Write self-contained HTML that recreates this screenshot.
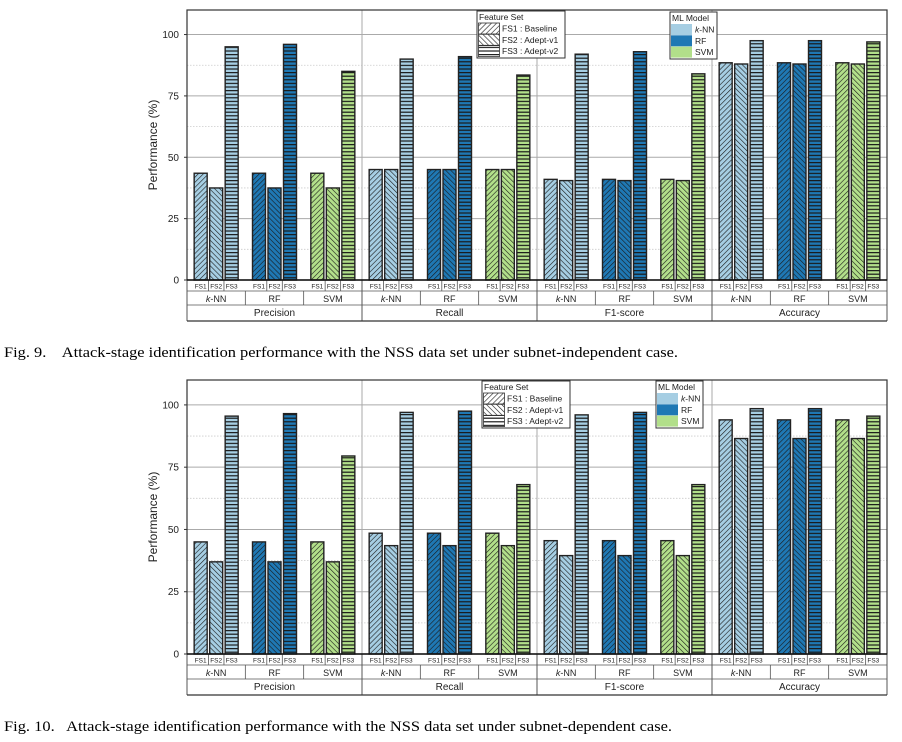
<!DOCTYPE html>
<html><head><meta charset="utf-8">
<style>
html,body{margin:0;padding:0;background:#fff;}
svg{display:block;}
text{font-family:"Liberation Sans",sans-serif;}
.cap{font-family:"Liberation Serif",serif;font-size:14.5px;fill:#000;}
</style></head>
<body>
<svg id="root" width="902" height="742" viewBox="0 0 902 742" xmlns="http://www.w3.org/2000/svg">
<defs>
<pattern id="h1" width="3.6" height="3.6" patternUnits="userSpaceOnUse" patternTransform="rotate(45)"><line x1="0" y1="0" x2="0" y2="3.6" stroke="#1a1a1a" stroke-width="1.2"/></pattern>
<pattern id="h2" width="3.6" height="3.6" patternUnits="userSpaceOnUse" patternTransform="rotate(-45)"><line x1="0" y1="0" x2="0" y2="3.6" stroke="#1a1a1a" stroke-width="1.2"/></pattern>
<pattern id="h3" width="4" height="3.6" patternUnits="userSpaceOnUse"><line x1="0" y1="0.6" x2="4" y2="0.6" stroke="#1a1a1a" stroke-width="1.2"/></pattern>
</defs>
<text class="cap" x="4" y="357" textLength="674" lengthAdjust="spacingAndGlyphs">Fig. 9.&#160;&#160;&#160; Attack-stage identification performance with the NSS data set under subnet-independent case.</text>
<text class="cap" x="4" y="731" textLength="668" lengthAdjust="spacingAndGlyphs">Fig. 10.&#160;&#160; Attack-stage identification performance with the NSS data set under subnet-dependent case.</text>
</svg>
<script>
const metrics = ["Precision","Recall","F1-score","Accuracy"];
const models = ["k-NN","RF","SVM"];
const featureSets = ["FS1","FS2","FS3"];
const yTicks = [0,25,50,75,100];
// values[metric][model][fs]
const fig9Values = [
 [[43.5,37.5,95],[43.5,37.5,96],[43.5,37.5,85]],
 [[45,45,90],[45,45,91],[45,45,83.5]],
 [[41,40.5,92],[41,40.5,93],[41,40.5,84]],
 [[88.5,88,97.5],[88.5,88,97.5],[88.5,88,97]]
];
const fig10Values = [
 [[45,37,95.5],[45,37,96.5],[45,37,79.5]],
 [[48.5,43.5,97],[48.5,43.5,97.5],[48.5,43.5,68]],
 [[45.5,39.5,96],[45.5,39.5,97],[45.5,39.5,68]],
 [[94,86.5,98.5],[94,86.5,98.5],[94,86.5,95.5]]
];
const modelColors = ["#a6cee3","#1f78b4","#b2df8a"];
const NS="http://www.w3.org/2000/svg";
const root=document.getElementById('root');
function el(tag,attrs,parent){const e=document.createElementNS(NS,tag);for(const k in attrs)e.setAttribute(k,attrs[k]);(parent||root).appendChild(e);return e;}

function chart(values, top, y0, fsLeg, mlLeg, name){
  const L=187,R=887,ymax=110;
  const scale=(y0-top)/ymax;
  const yS=v=>y0-v*scale;
  const g=el('g',{});
  
  
  for(let v=12.5;v<ymax;v+=12.5){
    const major=(v%25===0);
    const ln=el('line',{x1:L,x2:R,y1:yS(v),y2:yS(v),stroke:major?'#aaa':'#ccc','stroke-width':major?1:0.8,'stroke-dasharray':major?'':'1.5,1.5'},g);
    
    
  }
  const mw=(R-L)/metrics.length, gw=mw/models.length;
  for(let i=1;i<metrics.length;i++){
    const x=L+i*mw;
    const s=el('line',{x1:x,x2:x,y1:top,y2:y0,stroke:'#aaa','stroke-width':1},g);
    
    
  }
  yTicks.forEach(t=>{
    const tx=el('text',{x:L-8,y:yS(t)+3.5,'font-size':10,'text-anchor':'end',fill:'#222'},g);
    tx.textContent=t;
    
    
    el('line',{x1:L-3,x2:L,y1:yS(t),y2:yS(t),stroke:'#333'},g);
  });
  const yt=el('text',{x:0,y:0,'font-size':12,'text-anchor':'middle',fill:'#222',transform:`translate(157,${(top+y0)/2}) rotate(-90)`},g);
  yt.textContent='Performance (%)';
  
  
  const bw=13, step=15.5;
  values.forEach((mv,mi)=>{
    mv.forEach((fv,gi)=>{
      const cx=L+mi*mw+gi*gw+gw/2;
      fv.forEach((v,fi)=>{
        const x=cx+(fi-1)*step-bw/2;
        const bg=el('g',{},g);
        
        
        el('rect',{x:x,y:yS(v),width:bw,height:v*scale,fill:modelColors[gi]},bg);
        el('rect',{x:x,y:yS(v),width:bw,height:v*scale,fill:'url(#h'+(fi+1)+')',stroke:'#222','stroke-width':1.4},bg);
        const ft=el('text',{x:x+bw/2,y:y0+8.5,'font-size':6.5,'text-anchor':'middle',fill:'#222'},g);
        ft.textContent=featureSets[fi];
        
        
        if(fi>0) el('line',{x1:x-1.2,x2:x-1.2,y1:y0,y2:y0+11,stroke:'#555','stroke-width':0.8},g);
      });
      const gx=L+mi*mw+gi*gw;
      if(gi>0) el('line',{x1:gx,x2:gx,y1:y0+11,y2:y0+25,stroke:'#555','stroke-width':0.8},g);
      const mt=el('text',{x:gx+gw/2,y:y0+22,'font-size':9,'text-anchor':'middle',fill:'#222'},g);
      if(gi===0){const ts=el('tspan',{'font-style':'italic'},mt);ts.textContent='k';const t2=el('tspan',{},mt);t2.textContent='-NN';}
      else mt.textContent=models[gi];
      
      
    });
    const mx=L+mi*mw;
    el('line',{x1:mx,x2:mx,y1:y0,y2:y0+41,stroke:'#555','stroke-width':1},g);
    const mtt=el('text',{x:mx+mw/2,y:y0+36,'font-size':10,'text-anchor':'middle',fill:'#222'},g);
    mtt.textContent=metrics[mi];
    
    
  });
  el('line',{x1:R,x2:R,y1:y0,y2:y0+41,stroke:'#555','stroke-width':1},g);
  el('line',{x1:L,x2:R,y1:y0+11,y2:y0+11,stroke:'#555','stroke-width':0.8},g);
  el('line',{x1:L,x2:R,y1:y0+25,y2:y0+25,stroke:'#555','stroke-width':0.8},g);
  el('line',{x1:L,x2:R,y1:y0+41,y2:y0+41,stroke:'#333','stroke-width':1.2},g);
  el('rect',{x:L,y:top,width:R-L,height:y0-top,fill:'none',stroke:'#333','stroke-width':1.2},g);
  el('line',{x1:L,x2:R,y1:y0,y2:y0,stroke:'#111','stroke-width':1.6},g);
  const fl=el('g',{},g);
  
  
  el('rect',{x:fsLeg[0],y:fsLeg[1],width:88,height:47,fill:'#fff',stroke:'#333','stroke-width':1},fl);
  el('text',{x:fsLeg[0]+2,y:fsLeg[1]+9,'font-size':8.5,fill:'#222'},fl).textContent='Feature Set';
  const fsNames=['FS1 : Baseline','FS2 : Adept-v1','FS3 : Adept-v2'];
  fsNames.forEach((n,i)=>{
    const yy=fsLeg[1]+12+i*11.3;
    el('rect',{x:fsLeg[0]+1.5,y:yy,width:21,height:11,fill:'url(#h'+(i+1)+')',stroke:'#333','stroke-width':0.8},fl);
    el('text',{x:fsLeg[0]+25,y:yy+8.5,'font-size':8.5,fill:'#222'},fl).textContent=n;
  });
  const ml=el('g',{},g);
  
  
  el('rect',{x:mlLeg[0],y:mlLeg[1],width:47,height:47,fill:'#fff',stroke:'#333','stroke-width':1},ml);
  el('text',{x:mlLeg[0]+2,y:mlLeg[1]+9,'font-size':8.5,fill:'#222'},ml).textContent='ML Model';
  models.forEach((n,i)=>{
    const yy=mlLeg[1]+12+i*11.3;
    el('rect',{x:mlLeg[0]+1,y:yy,width:21,height:11,fill:modelColors[i]},ml);
    const t=el('text',{x:mlLeg[0]+25,y:yy+8.5,'font-size':8.5,fill:'#222'},ml);
    if(i===0){el('tspan',{'font-style':'italic'},t).textContent='k';el('tspan',{},t).textContent='-NN';}
    else t.textContent=n;
  });
}
chart(fig9Values,10,280,[477,11],[670,12],'figure-9-chart');
chart(fig10Values,380,654,[482,381],[656,381],'figure-10-chart');
</script>
</body></html>
